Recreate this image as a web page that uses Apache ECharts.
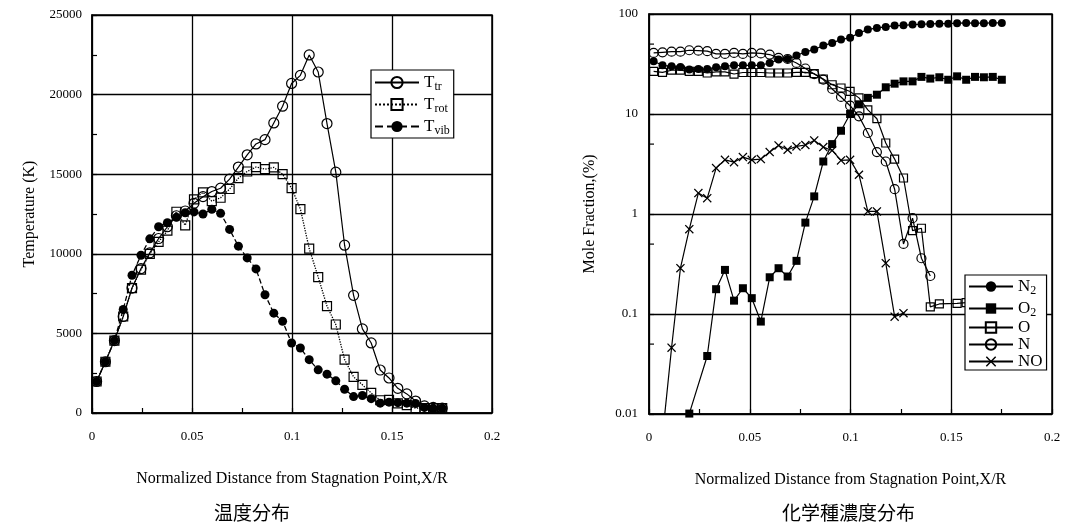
<!DOCTYPE html>
<html>
<head>
<meta charset="utf-8">
<script src="https://cdn.jsdelivr.net/npm/echarts@6/dist/echarts.min.js"></script>
<style>html,body{margin:0;padding:0;background:#fff}#c{width:1066px;height:531px}</style>
</head>
<body>
<div id="c"></div>
<script>
// shared x positions (normalized distance X/R)
var X = [0.0023,0.0067,0.0112,0.0156,0.0200,0.0245,0.0289,0.0333,0.0377,0.0422,
         0.0466,0.0510,0.0555,0.0599,0.0643,0.0688,0.0732,0.0776,0.0820,0.0865,
         0.0909,0.0953,0.0998,0.1042,0.1086,0.1131,0.1175,0.1219,0.1263,0.1308,
         0.1352,0.1396,0.1441,0.1485,0.1529,0.1574,0.1618,0.1662,0.1706,0.1751];

// Temperatures (K)
var Ttr  = [1980,3220,4550,6060,7850,9070,10060,10960,11700,12390,
            12690,13170,13590,13910,14120,14690,15450,16220,16900,17170,
            18220,19270,20700,21210,22490,21420,18180,15130,10540,7390,
            5280,4400,2700,2200,1550,1200,750,450,350,300];
var Trot = [1980,3220,4550,6060,7850,9000,10000,10750,11450,12640,
            11790,13420,13860,13310,13520,14070,14750,15170,15450,15320,
            15430,15000,14120,12810,10330,8540,6710,5560,3350,2270,
            1770,1260,800,830,600,500,300,300,300,300];
var Tvib = [1980,3220,4550,6500,8650,9910,10940,11700,11950,12290,
            12580,12630,12500,12800,12540,11530,10480,9740,9050,7430,
            6270,5760,4400,4080,3350,2710,2440,2020,1490,1030,
            1100,900,620,680,650,620,600,350,300,300];

// Mole fractions (%)
var N2 = [33.7,30.7,30.0,29.5,27.8,28.2,28.2,29.3,30.0,30.7,
          30.7,30.7,30.7,32.4,35.0,35.5,38.4,41.8,44.1,48.3,
          51.4,55.5,58.0,64.5,69.8,72.6,74.3,76.6,77.0,78.4,
          79.0,79.5,80.0,80.0,81.0,81.5,81.0,81.0,81.5,81.5];
var O2 = [null,null,null,null,0.0101,null,0.038,0.177,0.276,0.136,
          0.181,0.144,0.084,0.233,0.287,0.237,0.34,0.82,1.50,3.35,
          5.0,6.8,10.0,12.5,14.5,15.6,18.5,20.1,21.2,21.2,
          23.5,22.6,23.3,22.0,23.8,22.0,23.5,23.3,23.5,22.0];
var O  = [26.7,26.1,27.4,27.4,26.7,26.7,25.7,26.4,26.4,25.1,
          26.0,26.0,26.0,25.7,25.7,25.7,26.1,26.1,25.3,22.4,
          19.6,18.2,16.8,14.5,11.0,8.97,5.13,3.54,2.29,0.683,
          0.72,0.118,0.126,null,0.128,0.13];
var N  = [40.8,41.4,42.0,42.0,43.4,43.0,42.5,39.9,39.9,40.8,
          39.9,40.8,40.3,39.3,36.4,35.5,32.4,28.5,25.1,22.1,
          17.8,14.8,12.1,9.47,6.46,4.16,3.35,1.77,0.502,0.908,
          0.361,0.240];
var NO = [null,0.006,0.046,0.287,0.705,1.62,1.44,2.88,3.48,3.30,
          3.71,3.48,3.54,4.16,4.85,4.39,4.74,4.90,5.44,4.67,
          4.32,3.43,3.48,2.47,1.06,1.06,0.322,0.094,0.102];

var logMinorTicks = [50, 5, 0.5, 0.05];

function pairs(xs, ys) {
  var out = [];
  for (var i = 0; i < ys.length; i++) if (ys[i] != null) out.push([xs[i], ys[i]]);
  return out;
}

var SERIF = 'Liberation Serif';
var crossPath = 'path://M0,1L1,0L5,4L9,0L10,1L6,5L10,9L9,10L5,6L1,10L0,9L4,5Z';
var openStyle = {color: 'rgba(255,255,255,0)', borderColor: '#000', borderWidth: 1.2};
var fillStyle = {color: '#000', borderColor: '#000', borderWidth: 0};
var plainNum = function (v) { return String(v); };

function axisCommon(extra) {
  var base = {
    axisLine: {show: true, lineStyle: {color: '#000', width: 1.5}},
    axisTick: {show: true, inside: true, length: 5, lineStyle: {color: '#000', width: 1.2}},
    splitLine: {show: true, lineStyle: {color: '#000', width: 1.3}},
    axisLabel: {color: '#000', fontFamily: SERIF, fontSize: 13},
    nameTextStyle: {color: '#000', fontFamily: SERIF, fontSize: 16}
  };
  for (var k in extra) base[k] = extra[k];
  return base;
}

var subRich = {
  a: {fontFamily: SERIF, fontSize: 17, color: '#000', lineHeight: 21, verticalAlign: 'middle'},
  b: {fontFamily: SERIF, fontSize: 12, color: '#000', lineHeight: 21, verticalAlign: 'bottom', padding: [10, 0, 0, 0]}
};
var legendNames = {
  Ttr: '{a|T}{b|tr}', Trot: '{a|T}{b|rot}', Tvib: '{a|T}{b|vib}',
  N2: '{a|N}{b|2}', O2: '{a|O}{b|2}', O: '{a|O}', N: '{a|N}', NO: '{a|NO}'
};

var option = {
  animation: false,
  backgroundColor: '#fff',
  grid: [
    {left: 92, top: 15, width: 400, height: 398, show: true, borderColor: '#000', borderWidth: 1.5},
    {left: 649, top: 14, width: 403, height: 400, show: true, borderColor: '#000', borderWidth: 1.5}
  ],
  xAxis: [
    axisCommon({gridIndex: 0, type: 'value', min: 0, max: 0.2, interval: 0.05,
      minorTick: {show: true, splitNumber: 2, length: 5, lineStyle: {color: '#000', width: 1.2}},
      axisLabel: {color: '#000', fontFamily: SERIF, fontSize: 13, margin: 17, formatter: plainNum},
      name: 'Normalized Distance from Stagnation Point,X/R', nameLocation: 'middle', nameGap: 58}),
    axisCommon({gridIndex: 1, type: 'value', min: 0, max: 0.2, interval: 0.05,
      minorTick: {show: true, splitNumber: 2, length: 5, lineStyle: {color: '#000', width: 1.2}},
      axisLabel: {color: '#000', fontFamily: SERIF, fontSize: 13, margin: 17, formatter: plainNum},
      name: 'Normalized Distance from Stagnation Point,X/R', nameLocation: 'middle', nameGap: 58})
  ],
  yAxis: [
    axisCommon({gridIndex: 0, type: 'value', min: 0, max: 25000, interval: 5000,
      minorTick: {show: true, splitNumber: 2, length: 5, lineStyle: {color: '#000', width: 1.2}},
      axisLabel: {color: '#000', fontFamily: SERIF, fontSize: 13, margin: 10, formatter: plainNum},
      name: 'Temperature (K)', nameLocation: 'middle', nameGap: 54}),
    axisCommon({gridIndex: 1, type: 'log', logBase: 10, min: 0.01, max: 100,
      axisLabel: {color: '#000', fontFamily: SERIF, fontSize: 13, margin: 11, formatter: plainNum},
      name: 'Mole Fraction,(%)', nameLocation: 'middle', nameGap: 51})
  ],
  legend: [
    {data: ['Ttr', 'Trot', 'Tvib'], orient: 'vertical', left: 371, top: 70,
     backgroundColor: '#fff', borderColor: '#000', borderWidth: 1.2, borderRadius: 0,
     padding: [1, 4, 1, 3], itemGap: 0, itemWidth: 44, itemHeight: 14,
     formatter: function (n) { return legendNames[n]; },
     textStyle: {rich: subRich}},
    {data: ['N2', 'O2', 'O', 'N', 'NO'], orient: 'vertical', left: 965, top: 275,
     backgroundColor: '#fff', borderColor: '#000', borderWidth: 1.2, borderRadius: 0,
     padding: [0, 4, 0, 3], itemGap: 0, itemWidth: 44, itemHeight: 13,
     formatter: function (n) { return legendNames[n]; },
     textStyle: {rich: subRich}}
  ],
  graphic: [
    {type: 'text', left: 214, top: 503, style: {text: '温度分布', font: '19px "Noto Sans CJK JP"', fill: '#000'}},
    {type: 'text', left: 782, top: 503, style: {text: '化学種濃度分布', font: '19px "Noto Sans CJK JP"', fill: '#000'}}
  ],
  series: [
    {name: 'Ttr', type: 'line', xAxisIndex: 0, yAxisIndex: 0, data: pairs(X, Ttr),
     symbol: 'circle', symbolSize: 10, itemStyle: openStyle,
     lineStyle: {color: '#000', width: 1.2, type: 'solid'}, z: 3},
    {name: 'Trot', type: 'line', xAxisIndex: 0, yAxisIndex: 0, data: pairs(X, Trot),
     symbol: 'rect', symbolSize: 9, itemStyle: openStyle,
     lineStyle: {color: '#000', width: 1.3, type: 'dotted'}, z: 4},
    {name: 'Tvib', type: 'line', xAxisIndex: 0, yAxisIndex: 0, data: pairs(X, Tvib),
     symbol: 'circle', symbolSize: 9, itemStyle: fillStyle,
     lineStyle: {color: '#000', width: 1.3, type: 'dashed'}, z: 5},
    {name: 'N2', type: 'line', xAxisIndex: 1, yAxisIndex: 1, data: pairs(X, N2),
     symbol: 'circle', symbolSize: 8, itemStyle: fillStyle,
     lineStyle: {color: '#000', width: 1.2}, z: 3},
    {name: 'O2', type: 'line', xAxisIndex: 1, yAxisIndex: 1, data: pairs(X, O2),
     symbol: 'rect', symbolSize: 8, itemStyle: fillStyle,
     lineStyle: {color: '#000', width: 1.2}, z: 3},
    {name: 'O', type: 'line', xAxisIndex: 1, yAxisIndex: 1, data: pairs(X, O),
     symbol: 'rect', symbolSize: 8, itemStyle: openStyle,
     lineStyle: {color: '#000', width: 1.2}, z: 3},
    {name: 'N', type: 'line', xAxisIndex: 1, yAxisIndex: 1, data: pairs(X, N),
     symbol: 'circle', symbolSize: 9, itemStyle: openStyle,
     lineStyle: {color: '#000', width: 1.2}, z: 3},
    {name: 'NO', type: 'line', xAxisIndex: 1, yAxisIndex: 1, data: pairs(X, NO),
     symbol: crossPath, symbolSize: 9, itemStyle: fillStyle,
     lineStyle: {color: '#000', width: 1.2}, z: 3},
    {name: 'minorLogTicks', type: 'custom', xAxisIndex: 1, yAxisIndex: 1, silent: true, clip: false,
     data: logMinorTicks.map(function (v) { return [0, v]; }),
     renderItem: function (params, api) {
       var p = api.coord([0, api.value(1)]);
       return {type: 'line', shape: {x1: p[0], y1: p[1], x2: p[0] + 5, y2: p[1]},
               style: {stroke: '#000', lineWidth: 1.2}};
     }}
  ]
};

var chart = echarts.init(document.getElementById('c'), null, {renderer: 'canvas'});
chart.setOption(option);
</script>
</body>
</html>
